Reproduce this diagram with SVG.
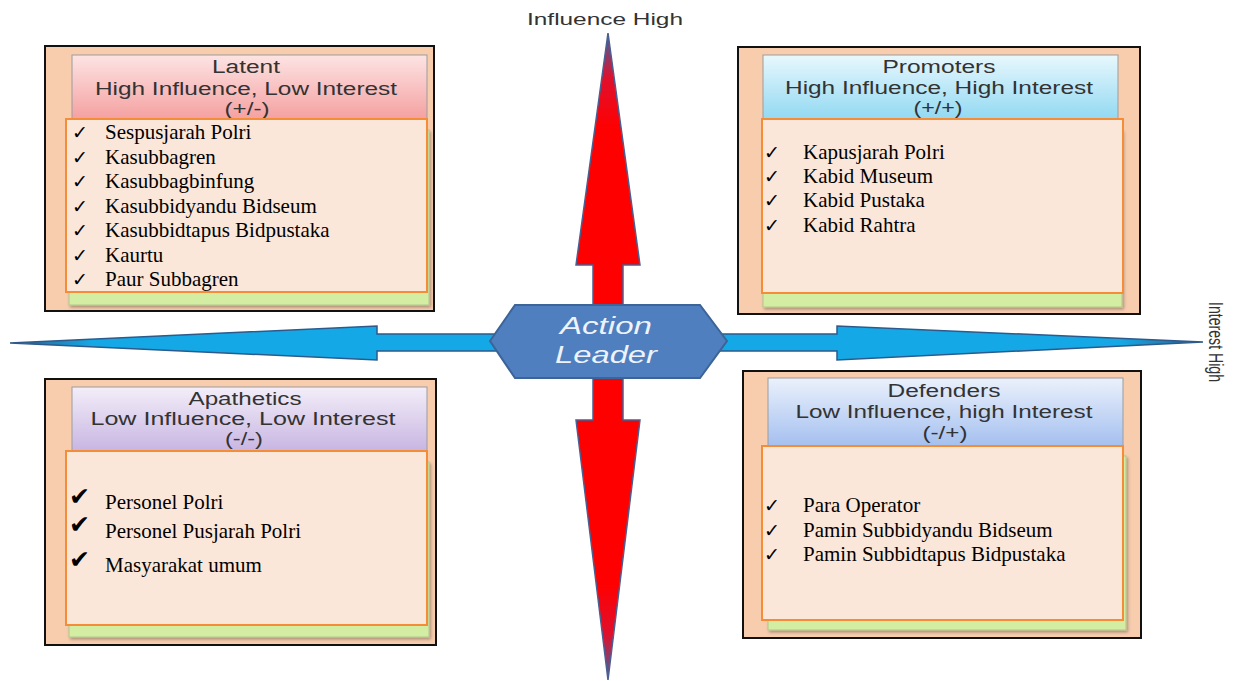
<svg xmlns="http://www.w3.org/2000/svg" width="1245" height="681" viewBox="0 0 1245 681">
<defs>
<linearGradient id="gLatent" x1="0" y1="0" x2="0" y2="1"><stop offset="0" stop-color="#fde4e4"/><stop offset="1" stop-color="#f49a9a"/></linearGradient>
<linearGradient id="gProm" x1="0" y1="0" x2="0" y2="1"><stop offset="0" stop-color="#e8f8fd"/><stop offset="1" stop-color="#8ad6f1"/></linearGradient>
<linearGradient id="gApa" x1="0" y1="0" x2="0" y2="1"><stop offset="0" stop-color="#f3eef9"/><stop offset="1" stop-color="#c4b0e0"/></linearGradient>
<linearGradient id="gDef" x1="0" y1="0" x2="0" y2="1"><stop offset="0" stop-color="#ebf1fc"/><stop offset="1" stop-color="#a0bdee"/></linearGradient>
<linearGradient id="gRed" gradientUnits="userSpaceOnUse" x1="0" y1="33" x2="0" y2="680"><stop offset="0" stop-color="#3f62a0"/><stop offset="0.07" stop-color="#e0102c"/><stop offset="0.15" stop-color="#ff0000"/><stop offset="0.85" stop-color="#ff0000"/><stop offset="0.93" stop-color="#e0102c"/><stop offset="1" stop-color="#3f62a0"/></linearGradient>
<linearGradient id="gBlue" gradientUnits="userSpaceOnUse" x1="10" y1="0" x2="1203" y2="0"><stop offset="0" stop-color="#2f5a8c"/><stop offset="0.07" stop-color="#14a9e6"/><stop offset="0.93" stop-color="#14a9e6"/><stop offset="1" stop-color="#2f5a8c"/></linearGradient>
<filter id="sh" x="-5%" y="-5%" width="112%" height="115%"><feDropShadow dx="1.5" dy="2" stdDeviation="1.5" flood-color="#000" flood-opacity="0.3"/></filter>
<style>
.outer{fill:#f8cdae;stroke:#111;stroke-width:2}
.hdr{stroke:#9c9c9c;stroke-width:1}
.green{fill:#d3eea2;stroke:#b3c58c;stroke-width:1}
.body{fill:#fbe7d9;stroke:#f58c38;stroke-width:2}
.ht{font-family:"Liberation Sans",Arial,sans-serif;font-size:17.5px;fill:#333;text-anchor:middle}
.bt{font-family:"Liberation Serif","Times New Roman",serif;font-size:21px;fill:#000}
.ck{font-family:"DejaVu Sans",sans-serif;font-size:19px;fill:#000}
.ck2{font-family:"DejaVu Sans",sans-serif;font-size:25px;fill:#000}
.ax{font-family:"Liberation Sans",Arial,sans-serif;font-size:17px;fill:#333}
.axv{font-family:"Liberation Sans",Arial,sans-serif;font-size:20px;fill:#333}
.hx{font-family:"Liberation Sans",Arial,sans-serif;font-size:23px;font-style:italic;fill:#eef3fb;text-anchor:middle}
</style>
</defs>
<rect width="1245" height="681" fill="#fff"/>

<g id="connectors">
<polygon points="608,33 640,265 623,265 623,420 640,420 608,680 576,420 593,420 593,265 576,265" fill="url(#gRed)" stroke="#4a5f92" stroke-width="1.5"/>
<polygon points="10,343 377,326 377,334 837,334 837,326 1203,342 837,360 837,351 377,351 377,360" fill="url(#gBlue)" stroke="#2d5a8a" stroke-width="1.5"/>
</g>

<g id="axis-labels">
<text class="ax" x="605" y="25" text-anchor="middle" textLength="156" lengthAdjust="spacingAndGlyphs">Influence High</text>
<text class="axv" transform="translate(1209,302) rotate(90)" x="0" y="0" textLength="80" lengthAdjust="spacingAndGlyphs">Interest High</text>
</g>

<g id="action-leader">
<polygon points="490,341 515,305 700,305 727,341 700,378 515,378" fill="#4f7fbf" stroke="#3b6498" stroke-width="2"/>
<text class="hx" x="606" y="334" textLength="92" lengthAdjust="spacingAndGlyphs">Action</text>
<text class="hx" x="606" y="363" textLength="102" lengthAdjust="spacingAndGlyphs">Leader</text>
</g>

<g id="latent">
<rect class="outer" x="45" y="46" width="389" height="265"/>
<rect class="hdr" x="72" y="55" width="355" height="70" fill="url(#gLatent)"/>
<text class="ht" x="246" y="73" textLength="68" lengthAdjust="spacingAndGlyphs">Latent</text>
<text class="ht" x="246" y="95" textLength="302" lengthAdjust="spacingAndGlyphs">High Influence, Low Interest</text>
<text class="ht" x="247" y="115" textLength="45" lengthAdjust="spacingAndGlyphs">(+/-)</text>
<rect class="green" x="69" y="130" width="360" height="175" filter="url(#sh)"/>
<rect class="body" x="66" y="119" width="361" height="173"/>
<g class="ck"><text x="72" y="139">✓</text><text x="72" y="163.5">✓</text><text x="72" y="188">✓</text><text x="72" y="212.5">✓</text><text x="72" y="237">✓</text><text x="72" y="261.5">✓</text><text x="72" y="286">✓</text></g>
<g class="bt"><text x="105" y="139">Sespusjarah Polri</text><text x="105" y="163.5">Kasubbagren</text><text x="105" y="188">Kasubbagbinfung</text><text x="105" y="212.5">Kasubbidyandu Bidseum</text><text x="105" y="237">Kasubbidtapus Bidpustaka</text><text x="105" y="261.5">Kaurtu</text><text x="105" y="286">Paur Subbagren</text></g>
</g>

<g id="promoters">
<rect class="outer" x="738" y="47" width="402" height="267"/>
<rect class="hdr" x="763" y="55" width="355" height="70" fill="url(#gProm)"/>
<text class="ht" x="939" y="73" textLength="113" lengthAdjust="spacingAndGlyphs">Promoters</text>
<text class="ht" x="939" y="94" textLength="308" lengthAdjust="spacingAndGlyphs">High Influence, High Interest</text>
<text class="ht" x="938" y="114" textLength="49" lengthAdjust="spacingAndGlyphs">(+/+)</text>
<rect class="green" x="763" y="130" width="359" height="177" filter="url(#sh)"/>
<rect class="body" x="762" y="119" width="361" height="174"/>
<g class="ck"><text x="764" y="159">✓</text><text x="764" y="183">✓</text><text x="764" y="207">✓</text><text x="764" y="232">✓</text></g>
<g class="bt"><text x="803" y="159">Kapusjarah Polri</text><text x="803" y="183">Kabid Museum</text><text x="803" y="207">Kabid Pustaka</text><text x="803" y="232">Kabid Rahtra</text></g>
</g>

<g id="apathetics">
<rect class="outer" x="45" y="379" width="391" height="266"/>
<rect class="hdr" x="72" y="387" width="355" height="70" fill="url(#gApa)"/>
<text class="ht" x="245" y="405" textLength="113" lengthAdjust="spacingAndGlyphs">Apathetics</text>
<text class="ht" x="243" y="425" textLength="305" lengthAdjust="spacingAndGlyphs">Low Influence, Low Interest</text>
<text class="ht" x="244" y="445" textLength="38" lengthAdjust="spacingAndGlyphs">(-/-)</text>
<rect class="green" x="69" y="462" width="360" height="175" filter="url(#sh)"/>
<rect class="body" x="66" y="451" width="361" height="174"/>
<g class="ck2"><text x="69" y="505">✔</text><text x="69" y="533">✔</text><text x="69" y="568">✔</text></g>
<g class="bt"><text x="105" y="509">Personel Polri</text><text x="105" y="538">Personel Pusjarah Polri</text><text x="105" y="572">Masyarakat umum</text></g>
</g>

<g id="defenders">
<rect class="outer" x="743" y="371" width="398" height="267"/>
<rect class="hdr" x="768" y="378" width="355" height="72" fill="url(#gDef)"/>
<text class="ht" x="944" y="397" textLength="113" lengthAdjust="spacingAndGlyphs">Defenders</text>
<text class="ht" x="944" y="418" textLength="297" lengthAdjust="spacingAndGlyphs">Low Influence, high Interest</text>
<text class="ht" x="945" y="439" textLength="45" lengthAdjust="spacingAndGlyphs">(-/+)</text>
<rect class="green" x="768" y="456" width="358" height="174" filter="url(#sh)"/>
<rect class="body" x="762" y="446" width="361" height="174"/>
<g class="ck"><text x="764" y="512">✓</text><text x="764" y="537">✓</text><text x="764" y="561">✓</text></g>
<g class="bt"><text x="803" y="512">Para Operator</text><text x="803" y="537">Pamin Subbidyandu Bidseum</text><text x="803" y="561">Pamin Subbidtapus Bidpustaka</text></g>
</g>
</svg>
